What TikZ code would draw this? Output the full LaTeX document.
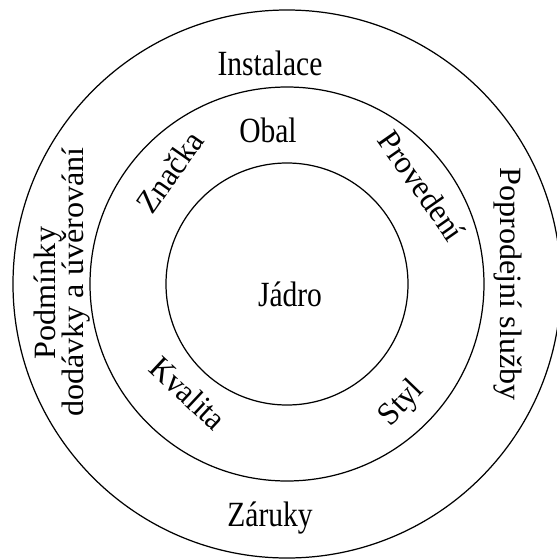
\documentclass[tikz,border=0pt]{standalone}
\usepackage{fontspec}
\setmainfont{Liberation Serif}
\usepackage{graphicx}
\usepackage{tikz}
\usetikzlibrary{positioning}

\tikzset{
    ring/.style={line width=0.7pt, black},
    lbl/.style={font=\fontsize{16.8}{20}\selectfont, inner sep=0pt, anchor=center}
}
% pismo je v predloze vyssi a uzsi
\newcommand{\vodor}[1]{\scalebox{1}[1.2]{#1}}
\newcommand{\svisle}[1]{\scalebox{1.09}[1.05]{#1}}
\newcommand{\sikmo}[1]{\scalebox{1.05}[1.1]{#1}}

\begin{document}
\begin{tikzpicture}[x=0.02cm, y=0.02cm]
    % rozmery obrazku
    \useasboundingbox (-287, -275) rectangle (270, 284);

    % kruhy
    \draw[ring] (0, 0) circle (274);
    \draw[ring] (0, 0) circle (197);
    \draw[ring] (0, 0) circle (121);

    % jadro
    \node[lbl] (jadro) at (3, -10) {\vodor{Jádro}};

    % stredni prstenec
    \node[lbl] (obal) at (-19, 154) {\vodor{Obal}};
    \node[lbl, rotate=55] (znacka) at (-117, 112) {\sikmo{Značka}};
    \node[lbl, rotate=-55] (provedeni) at (135, 98) {\sikmo{Provedení}};
    \node[lbl, rotate=-43] (kvalita) at (-99, -109) {\sikmo{Kvalita}};
    \node[lbl, rotate=46] (styl) at (115, -120) {\sikmo{Styl}};

    % vnejsi prstenec
    \node[lbl] (instalace) at (-17, 221) {\vodor{Instalace}};
    \node[lbl] (zaruky) at (-17, -234) {\vodor{Záruky}};
    \node[lbl, rotate=90] (podminky) at (-239, -9) {\svisle{Podmínky}};
    \node[lbl, rotate=90] (dodavky) at (-211, 2) {\svisle{dodávky a úvěrování}};
    \node[lbl, rotate=-90] (sluzby) at (221, 0) {\svisle{Poprodejní služby}};
\end{tikzpicture}
\end{document}
